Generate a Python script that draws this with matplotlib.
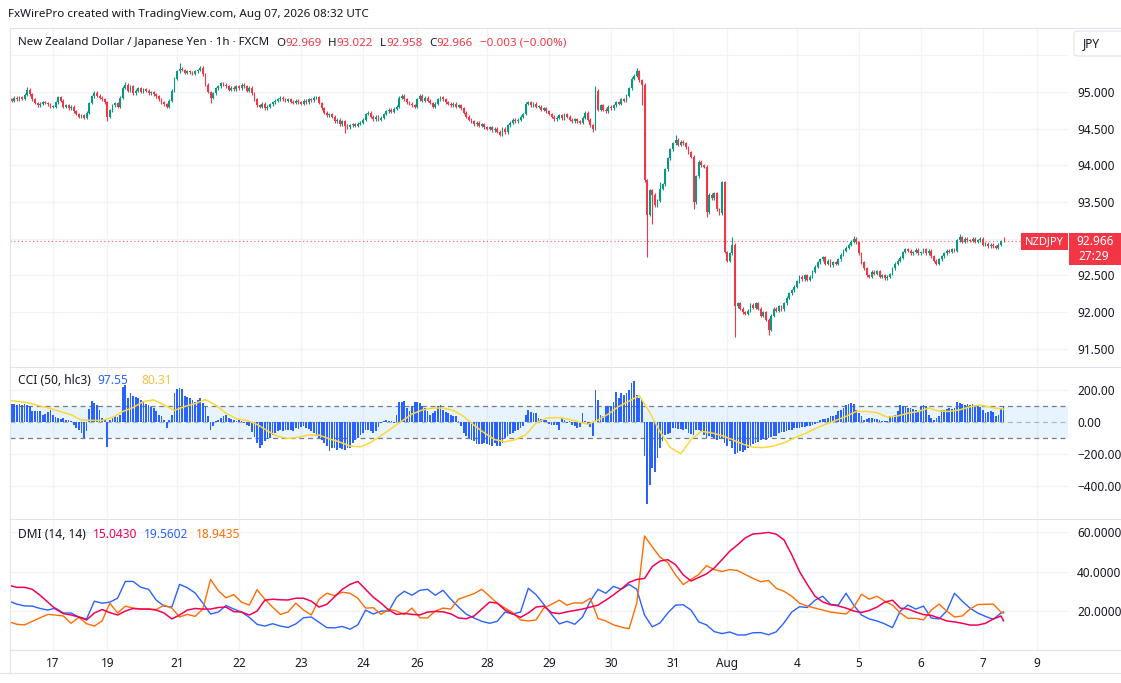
import numpy as np
import matplotlib.pyplot as plt
from matplotlib.patches import Rectangle, FancyBboxPatch
from matplotlib.lines import Line2D

plt.rcParams['font.family'] = ['Noto Sans', 'DejaVu Sans']

# NZD/JPY 1h closes, Jul 16 07:00 -> Aug 7 08:00 UTC (weekend hours are not plotted)
CLOSE = [
    # Jul 16
    94.90, 94.88, 94.92, 94.90, 94.93, 94.91, 94.96, 95.03, 94.97, 94.90, 94.85, 94.82, 94.84, 94.86, 94.85, 94.83, 94.80,
    # Jul 17
    94.80, 94.86, 94.93, 94.88, 94.80, 94.82, 94.78, 94.80, 94.74, 94.70, 94.66, 94.68, 94.65, 94.72, 94.85, 94.94,
    94.99, 94.95, 94.92, 94.90, 94.86,
    # Jul 19 (Sunday open)
    94.66, 94.75, 94.82,
    # Jul 20
    94.85, 94.80, 94.92, 95.06, 95.10, 95.02, 95.08, 94.98, 95.02, 95.05, 95.00, 95.04, 95.02, 94.98, 95.00, 94.97,
    94.94, 94.90, 94.86, 94.83, 94.80, 94.88, 95.02, 95.18,
    # Jul 21
    95.28, 95.32, 95.30, 95.26, 95.28, 95.27, 95.25, 95.28, 95.30, 95.33, 95.24, 95.10, 95.00, 94.92, 94.98, 95.05,
    95.08, 95.12, 95.10, 95.08, 95.03, 95.06, 95.04, 95.08,
    # Jul 22
    95.05, 95.10, 95.08, 95.02, 95.06, 94.98, 94.90, 94.82, 94.80, 94.84, 94.78, 94.80, 94.83, 94.86, 94.88, 94.90,
    94.92, 94.90, 94.88, 94.90, 94.87, 94.85, 94.88, 94.86,
    # Jul 23
    94.84, 94.88, 94.86, 94.90, 94.89, 94.92, 94.93, 94.85, 94.78, 94.72, 94.68, 94.70, 94.66, 94.60, 94.62, 94.56,
    94.60, 94.54, 94.52, 94.55, 94.56, 94.54, 94.57, 94.58,
    # Jul 24
    94.62, 94.70, 94.72, 94.66, 94.63, 94.66, 94.62, 94.65, 94.70, 94.74, 94.76, 94.73, 94.77, 94.80, 94.92, 94.95,
    94.90, 94.86, 94.84, 94.82, 94.80,
    # Jul 26 (Sunday open)
    94.90, 94.95, 94.88,
    # Jul 27
    94.92, 94.88, 94.85, 94.80, 94.84, 94.90, 94.93, 94.90, 94.86, 94.84, 94.82, 94.84, 94.80, 94.82, 94.78, 94.72,
    94.66, 94.62, 94.60, 94.56, 94.58, 94.54, 94.56, 94.52,
    # Jul 28
    94.50, 94.52, 94.48, 94.50, 94.46, 94.42, 94.50, 94.45, 94.55, 94.58, 94.62, 94.60, 94.62, 94.66, 94.70, 94.84,
    94.86, 94.82, 94.84, 94.80, 94.80, 94.76, 94.78, 94.74,
    # Jul 29
    94.70, 94.66, 94.63, 94.65, 94.68, 94.64, 94.70, 94.66, 94.62, 94.60, 94.63, 94.60, 94.58, 94.65, 94.72, 94.62,
    94.55, 94.50, 95.02, 94.76, 94.82, 94.76, 94.74, 94.80,
    # Jul 30
    94.78, 94.82, 94.86, 94.84, 94.90, 94.88, 94.95, 95.05, 95.18, 95.22, 95.28, 95.16, 95.10, 93.80, 93.33, 93.66,
    93.60, 93.46, 93.52, 93.68, 93.74, 93.95, 94.10, 94.22,
    # Jul 31
    94.30, 94.35, 94.28, 94.32, 94.30, 94.25, 94.18, 94.12, 93.50, 93.85, 94.05, 94.00, 93.98, 93.36, 93.60, 93.55,
    93.62, 93.40, 93.35, 93.77, 92.82,
    # Aug 2 (Sunday open)
    92.70, 92.80, 92.92,
    # Aug 3
    92.08, 92.12, 92.05, 92.00, 91.98, 92.02, 92.10, 92.06, 92.12, 92.05, 91.95, 92.00, 91.90, 91.76, 91.95, 92.05,
    92.02, 92.08, 92.04, 92.12, 92.20, 92.26, 92.30, 92.35,
    # Aug 4
    92.42, 92.48, 92.45, 92.50, 92.44, 92.48, 92.55, 92.62, 92.68, 92.72, 92.75, 92.66, 92.70, 92.64, 92.68, 92.66,
    92.72, 92.78, 92.84, 92.88, 92.92, 92.96, 93.00, 92.95,
    # Aug 5
    92.80, 92.68, 92.60, 92.50, 92.48, 92.55, 92.52, 92.56, 92.48, 92.50, 92.46, 92.48, 92.52, 92.60, 92.66, 92.70,
    92.74, 92.82, 92.86, 92.84, 92.80, 92.82, 92.85, 92.80,
    # Aug 6
    92.82, 92.86, 92.80, 92.84, 92.76, 92.70, 92.66, 92.72, 92.76, 92.80, 92.84, 92.82, 92.86, 92.84, 92.98, 93.02,
    92.96, 93.00, 92.98, 92.97, 93.00, 92.96, 92.98, 93.00,
    # Aug 7
    92.92, 92.93, 92.90, 92.92, 92.90, 92.88, 92.92, 92.969, 92.966,
]
FIRST_OPEN = 94.90
WICK = 0.02
# longer wicks (bar number -> price)
HIGHS = {7: 95.07, 45: 95.14, 66: 95.40, 74: 95.36, 227: 95.08, 243: 95.33, 252: 93.78, 258: 94.41,
         280: 93.02, 327: 93.04, 368: 93.06, 385: 93.022}
LOWS = {38: 94.60, 78: 94.85, 130: 94.44, 190: 94.40, 226: 94.46, 245: 94.82, 247: 92.75, 249: 93.20,
        265: 93.40, 270: 93.30, 281: 91.66, 294: 91.69, 385: 92.958}

CCI = [
    118, 115, 112, 108, 110, 106, 112, 105, 100, 68, 66, 66, 68, 45, 48, 62, 72, 42,
    30, 28, 20, 24, 15, 12, 5, -20, -35, -48, -70, -100, -55, 80, 130, 118, 105, 78,
    28, 15, -155, 15, 25, 35, 30, 45,
    220, 232, 150, 180, 165, 158, 150, 140, 125, 115, 105, 95, 85, 70, 45, 38, 15, -37, 10, 45, 180,
    205, 215, 205, 162, 158, 150, 138, 128, 140, 148, 120, 97, 40, -47, -27, 4, 12, 22, 35, 45, 28, 18, 12, 4,
    12, 8, -6, -16, -27, -60, -95, -130, -160, -145, -120, -105, -100, -80, -70, -55, -48, -58, -50, -47, -52, -58, -40, -45,
    -30, -27, -37, -45, -55, -68, -85, -100, -115, -130, -150, -180, -165, -160, -172, -160, -168, -175, -165, -160, -130, -115, -100, -80,
    -68, -47, -50, -58, -68, -58, -30, -6, 4, 15, 8, 4, -6, 45, 128, 128, 132, 87, 66, 100, 128,
    128, 118, 100,
    87, 66, 45, 55, 66, 97, 107, 76, 60, 56, 45, 40, 35, 4, -27, -68, -90, -100, -110, -120, -135, -140, -140, -130,
    -140, -145, -150, -130, -150, -150, -130, -100, -89, -78, -70, -58, -47, -38, -27, 45, 76, 62, 58, 55, 25, 20, 15, 15,
    -10, -16, -16, -20, -47, 25, 10, -6, 5, -16, -25, -37, -30, 56, 5, -15, -30, -89, 200, 138, 45, 35, 97, 97,
    97, 128, 185, 148, 180, 170, 180, 200, 241, 255, 169, 148, 140, -212, -511, -395, -290, -310, -227, -165, -120, -80, -75, -70,
    -37, -40, -45, -42, -47, -45, -70, -75, -80, -50, -48, -55, -80, -100, -90, -95, -100, -110, -105, -100, -130,
    -150, -120, -160,
    -200, -195, -180, -185, -175, -165, -150, -140, -130, -125, -115, -105, -110, -100, -95, -90, -85, -70, -65, -60, -55, -50, -47, -40,
    -37, -35, -32, -30, -28, -27, -16, -10, -6, 15, 18, 20, 25, 35, 40, 45, 66, 75, 87, 107, 112, 118, 110, 76,
    56, 35, 15, 20, 25, 25, 20, 18, 15, 4, 6, 4, 35, 40, 45, 66, 107, 100, 95, 90, 87, 80, 75, 70,
    97, 107, 100, 45, 25, 15, 25, 35, 76, 76, 80, 87, 82, 87, 128, 118, 112, 107, 110, 107, 110, 105, 100, 95,
    76, 56, 60, 66, 60, 35, 45, 87, 97.55,
]
# CCI moving average, read every 4th bar (plus the last bar)
CCI_MA_STEP = 4
CCI_MA = [
    135, 128, 118, 100, 85, 65, 45, 12, 10, 10,
    28, 66, 90, 128, 138, 107, 72, 97, 115, 140,
    105, 55, 20, 10, -15, -55, -90, -103, -95, -82,
    -82, -105, -125, -150, -155, -128, -85, -40, 5, 50,
    75, 87, 87, 72, 35, -20, -68, -110, -124, -110,
    -80, -6, 24, 28, 20, 2, -14, 12, 50, 97,
    130, 165, 60, -60, -160, -198, -110, -58, -68, -85,
    -110, -138, -157, -160, -150, -130, -100, -74, -42, -15,
    10, 35, 66, 66, 58, 30, 38, 55, 66, 87,
    68, 66, 76, 95, 106, 92, 82, 80.31,
]

# DMI (14, 14), read every 3rd bar (plus the last bar)
DMI_STEP = 3
ADX = [
    33, 32, 32, 31, 28, 24.5, 21, 18.7, 18, 17,
    15.5, 19, 20.8, 19.2, 18, 20, 21.3, 21, 21, 20.5,
    19, 16, 18, 20.5, 21.3, 21, 21, 21.8, 22, 19.7,
    19.5, 18, 20, 25.5, 26, 25.7, 25.6, 26.5, 26.5, 25,
    22, 23.4, 27.2, 31, 33.5, 35, 31, 27, 24, 20.5,
    18.3, 18.8, 18.3, 18, 19.5, 19.8, 19.6, 18.6, 16.5, 16.1,
    17.5, 21, 24.5, 24, 20.5, 18.5, 16.8, 19, 22, 22.5,
    19.2, 18.7, 19.6, 20.3, 21, 22, 23, 25.5, 28.2, 31.2,
    34.5, 36, 36.5, 42.5, 45.3, 46, 43.5, 38.3, 35.2, 37,
    38.8, 41.8, 46, 50.3, 53.5, 57, 59, 59.3, 59.8, 58.9,
    56, 48.5, 40, 33.5, 27.5, 24.6, 23.2, 22.6, 21.5, 20,
    19.3, 20.3, 22, 24.5, 25.5, 21.5, 21, 19.5, 18.2, 17.8,
    16.5, 15, 14.5, 13.8, 12.9, 12.9, 13.8, 16, 17.5, 15.043,
]
PLUS_DI = [
    25, 23.5, 22.6, 22.5, 21.3, 20.5, 21.5, 19, 19, 17,
    16, 25, 24, 24.5, 26.5, 35, 35, 32, 31, 25.5,
    22.5, 22, 33.5, 31.8, 29.2, 24, 18.5, 19.5, 22.8, 21,
    19.5, 16.8, 13.3, 12.4, 13.6, 12.4, 11.7, 13.5, 16.6, 17,
    14.3, 11.6, 11.5, 12.2, 10.8, 13, 20.5, 18.5, 20, 20,
    27, 30, 28, 30.5, 31, 28, 30.5, 26, 22, 18.4,
    16.5, 14.8, 13.8, 14.8, 19.5, 18.5, 19.5, 31.5, 28.3, 23.4,
    18.3, 13.5, 14.8, 13.3, 17, 25, 31, 29, 32.5, 31,
    33.5, 31, 18, 12, 14, 19, 23, 23.2, 20.5, 14.5,
    13, 9.6, 8.6, 9.4, 7.9, 7.9, 9, 9.1, 8, 9.5,
    14, 19.5, 22.2, 21.8, 25.5, 27.5, 23.4, 23, 29, 23,
    18, 16, 15, 13.5, 11.6, 20, 23, 21, 22.5, 16.5,
    16, 20, 29, 25, 21.5, 19, 17.3, 15.8, 19, 19.5602,
]
MINUS_DI = [
    14.6, 13.3, 13, 14.8, 16.6, 18.3, 18, 17.5, 13.8, 16.8,
    13.6, 12.4, 15, 24, 19, 22.5, 21.5, 21, 21, 20.8,
    23, 21.5, 17, 18.3, 17.3, 21, 36, 30.3, 26.7, 28.3,
    24.5, 23, 30.8, 26, 22, 18.3, 19.5, 24, 20.5, 18,
    26, 29, 27.8, 29.5, 29, 26.5, 21.5, 21.7, 18.3, 21,
    20, 18.3, 21.5, 16.6, 16.5, 20, 21.5, 21, 26, 27.4,
    28.8, 31, 27.5, 24, 21.5, 19.2, 15.5, 15, 15.5, 21.5,
    23.4, 25.5, 23, 24.2, 24, 26.5, 16.2, 15, 13, 11.9,
    11, 24, 58, 52.5, 47.3, 44.5, 38.3, 33.4, 36, 38.5,
    43, 41, 40, 41, 40.5, 38.5, 36.5, 34.8, 35.5, 31.5,
    30, 27.5, 24, 22.5, 21.5, 20.5, 19.5, 19, 18.5, 22,
    28.5, 26, 27.5, 25, 23, 19, 16.3, 16.3, 15.5, 20.5,
    23.5, 20, 17, 17.5, 21, 23.3, 23.4, 23.5, 19.5, 18.9435,
]

# time axis: bar number of each date label
DAY_LABELS = ['17', '19', '21', '22', '23', '24', '26', '28', '29', '30', '31', 'Aug', '4', '5', '6', '7', '9']
DAY_BARS = [17, 38, 65, 89, 113, 137, 158, 185, 209, 233, 257, 278, 305, 329, 353, 377, 398]

PRICE_TICKS = [95.0, 94.5, 94.0, 93.5, 92.5, 92.0, 91.5]
PRICE_GRID = [95.5, 95.0, 94.5, 94.0, 93.5, 93.0, 92.5, 92.0, 91.5]
CCI_TICKS = [200, 0, -200, -400]
DMI_TICKS = [60, 40, 20]

GREEN = '#089981'
RED = '#F23645'
BLUE = '#2962FF'
TEXT = '#131722'
GRID = '#F0F3FA'
LINE = '#E0E3EB'

W, H = 1121, 683
fig = plt.figure(figsize=(W / 100, H / 100), dpi=100)


def box(x0, y0, x1, y1):
    return [x0 / W, 1 - y1 / H, (x1 - x0) / W, (y1 - y0) / H]


ax_p = fig.add_axes(box(10, 28, 1068, 366))
ax_c = fig.add_axes(box(10, 367, 1068, 518))
ax_d = fig.add_axes(box(10, 519, 1068, 650))

for ax in (ax_p, ax_c, ax_d):
    ax.set_xlim(0.35, 409.95)
    for s in ax.spines.values():
        s.set_visible(False)
    ax.yaxis.tick_right()
    ax.tick_params(axis='y', length=0, pad=6.5, labelsize=8.5, labelcolor=TEXT)
    ax.tick_params(axis='x', length=0)
    for b in DAY_BARS:
        ax.axvline(b, color=GRID, lw=0.9, zorder=0)

# ---- price candles ----
c = np.array(CLOSE)
o = np.r_[FIRST_OPEN, c[:-1]]
x = np.arange(len(c))
hi = np.maximum(o, c) + WICK
lo = np.minimum(o, c) - WICK
for k, v in HIGHS.items():
    hi[k] = v
for k, v in LOWS.items():
    lo[k] = v
cols = np.where(c >= o, GREEN, RED)

for lv in PRICE_GRID:
    ax_p.axhline(lv, color=GRID, lw=0.9, zorder=0)
ax_p.vlines(x, lo, hi, colors=cols, lw=0.8, zorder=2)
ax_p.bar(x, np.maximum(np.abs(c - o), 0.006), bottom=np.minimum(o, c), width=0.7,
         color=cols, linewidth=0, zorder=3)
ax_p.axhline(c[-1], color=RED, lw=0.9, ls=(0, (1, 2)), alpha=0.7, zorder=1)
ax_p.set_ylim(91.267, 95.872)
ax_p.set_yticks(PRICE_TICKS)
ax_p.set_yticklabels([f'{v:.3f}' for v in PRICE_TICKS])
for lab, v in zip(ax_p.get_yticklabels(), PRICE_TICKS):
    if v == int(v):
        lab.set_fontweight('bold')
ax_p.set_xticks([])

# ---- CCI ----
ax_c.axhspan(-100, 100, color='#2196F3', alpha=0.1, lw=0, zorder=0)
for lv in (-400, -200, 200):
    ax_c.axhline(lv, color=GRID, lw=0.9, zorder=0)
for lv, a in ((100, 1.0), (-100, 1.0), (0, 0.5)):
    ax_c.axhline(lv, color='#787B86', lw=0.9, ls=(0, (4, 3)), alpha=a, zorder=1)
ax_c.bar(np.arange(len(CCI)), CCI, width=0.68, color=BLUE, linewidth=0, zorder=2)
ma_x = list(range(0, len(CCI), CCI_MA_STEP)) + [len(CCI) - 1]
ax_c.plot(ma_x, CCI_MA, color='#FDD835', lw=1.1, zorder=3)
ax_c.set_ylim(-600, 343.75)
ax_c.set_yticks(CCI_TICKS)
ax_c.set_yticklabels([f'{v:.2f}'.replace('-', '\u2212') for v in CCI_TICKS])
ax_c.set_xticks([])

# ---- DMI ----
for lv in DMI_TICKS:
    ax_d.axhline(lv, color=GRID, lw=0.9, zorder=0)
dmi_x = list(range(0, len(CLOSE), DMI_STEP)) + [len(CLOSE) - 1]
ax_d.plot(dmi_x, ADX, color='#F50057', lw=1.1, zorder=3)
ax_d.plot(dmi_x, PLUS_DI, color=BLUE, lw=1.0, zorder=2)
ax_d.plot(dmi_x, MINUS_DI, color='#FF6D00', lw=1.0, zorder=2)
ax_d.set_ylim(0.29, 66.58)
ax_d.set_yticks(DMI_TICKS)
ax_d.set_yticklabels([f'{v:.4f}' for v in DMI_TICKS])
ax_d.set_xticks(DAY_BARS)
ax_d.set_xticklabels(DAY_LABELS)
ax_d.tick_params(axis='x', pad=5, labelsize=8.5, labelcolor=TEXT)
for lab in ax_d.get_xticklabels():
    if lab.get_text() == 'Aug':
        lab.set_fontweight('bold')

# ---- frame lines ----
for (x0, y0, x1, y1) in [(10, 28, 1121, 28), (10, 366.5, 1121, 366.5), (10, 518.5, 1121, 518.5),
                         (10, 650, 1121, 650), (10, 28, 10, 673), (0, 673, 1121, 673)]:
    fig.add_artist(Line2D([x0 / W, x1 / W], [1 - y0 / H, 1 - y1 / H], color=LINE, lw=0.8,
                          transform=fig.transFigure))


# ---- texts ----
def label_row(ax, x_px, y_px, parts, size):
    # parts: (text, colour, gap in points before it); each piece follows the previous one
    t = ax.annotate(parts[0][0], xy=(x_px, H - y_px), xycoords='figure pixels',
                    color=parts[0][1], fontsize=size, va='center', ha='left')
    for s, col, gap in parts[1:]:
        t = ax.annotate(s, xy=(1, 0), xycoords=t, xytext=(gap, 0), textcoords='offset points',
                        color=col, fontsize=size, va='bottom', ha='left')


fig.text(8 / W, 1 - 15 / H, 'FxWirePro created with TradingView.com, Aug 07, 2026 08:32 UTC',
         fontsize=8.4, color=TEXT, va='center')
label_row(ax_p, 18, 43, [('New Zealand Dollar / Japanese Yen \u00b7 1h \u00b7 FXCM', TEXT),
                         ('O', TEXT, 5), ('92.969', RED, 0),
                         ('H', TEXT, 5), ('93.022', RED, 0),
                         ('L', TEXT, 5), ('92.958', RED, 0),
                         ('C', TEXT, 5), ('92.966', RED, 0),
                         ('\u22120.003 (\u22120.00%)', RED, 5)], 8.3)

label_row(ax_c, 18, 381, [('CCI (50, hlc3)', TEXT), ('97.55', BLUE, 5), ('80.31', '#F5C542', 9)], 8.6)
label_row(ax_d, 18, 534, [('DMI (14, 14)', TEXT), ('15.0430', '#F50057', 5),
                          ('19.5602', BLUE, 5), ('18.9435', '#FF6D00', 5)], 8.6)

# JPY currency box
fig.add_artist(FancyBboxPatch((1074 / W, 1 - 56 / H), 60 / W, 25 / H,
                              boxstyle='round,pad=0,rounding_size=0.004', transform=fig.transFigure,
                              facecolor='white', edgecolor=LINE, lw=0.8))
fig.text(1083 / W, 1 - 43.5 / H, 'JPY', fontsize=8.5, color=TEXT, va='center')

# last price labels
fig.add_artist(Rectangle((1021 / W, 1 - 250 / H), 47 / W, 17 / H, transform=fig.transFigure,
                         facecolor=RED, lw=0))
fig.text(1044.5 / W, 1 - 241.5 / H, 'NZDJPY', fontsize=8, color='white', fontweight='bold',
         ha='center', va='center')
fig.add_artist(Rectangle((1069 / W, 1 - 265 / H), 52 / W, 32 / H, transform=fig.transFigure,
                         facecolor=RED, lw=0))
fig.text(1095 / W, 1 - 241.5 / H, '92.966', fontsize=8.5, color='white', ha='center', va='center')
fig.text(1094 / W, 1 - 256.5 / H, '27:29', fontsize=8.5, color='white', ha='center', va='center')

fig.savefig('out.png', dpi=100, facecolor='white')
